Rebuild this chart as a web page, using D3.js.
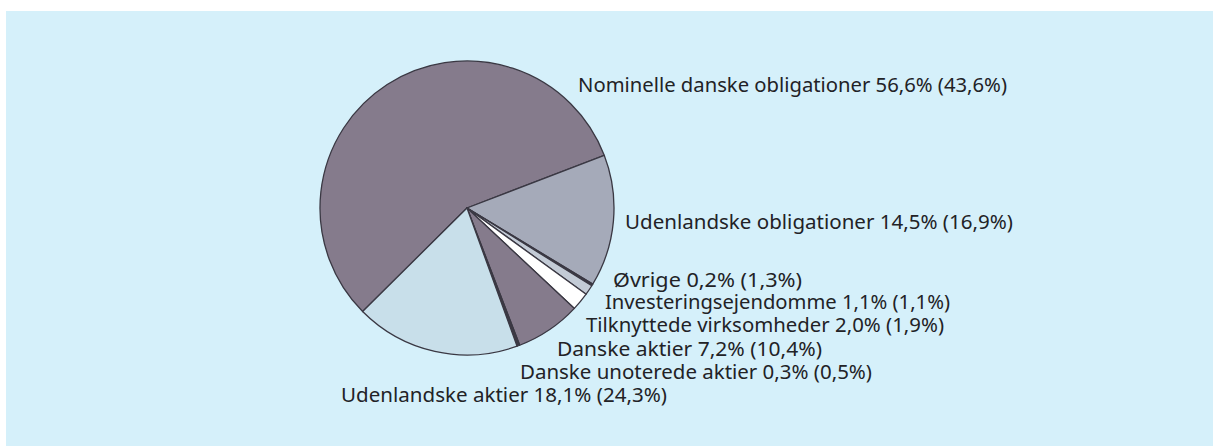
<!DOCTYPE html>
<html>
<script src="https://d3js.org/d3.v7.min.js"></script>

<head>
    <style>
        body {
            margin: 0;
            background-color: #ffffff;
            font-family: "Noto Sans", Arial, sans-serif;
        }

        svg {
            display: block;
        }
    </style>
</head>

<body>
</body>
<script>
    const width = 1213,
        height = 448;

    // asset classes, clockwise starting at the big slice
    const categories = [
        "Nominelle danske obligationer",
        "Udenlandske obligationer",
        "Øvrige",
        "Investeringsejendomme",
        "Tilknyttede virksomheder",
        "Danske aktier",
        "Danske unoterede aktier",
        "Udenlandske aktier"
    ];
    // share this year, %
    const shares = [56.6, 14.5, 0.2, 1.1, 2.0, 7.2, 0.3, 18.1];
    // share previous year, % (in brackets)
    const previous = [43.6, 16.9, 1.3, 1.1, 1.9, 10.4, 0.5, 24.3];

    const colors = [
        "#857b8c", // mauve grey
        "#a5aab9",
        "#3d3a45",
        "#c3cbd6",
        "#ffffff",
        "#857b8c",
        "#3d3a45",
        "#c8dfea"
    ];

    // label anchors: left x, baseline y, target width
    const labelPos = [
        [578, 92, 429],
        [625, 229, 388],
        [613, 287, 189],
        [605, 309, 345],
        [586, 332, 358],
        [557, 356, 265],
        [520, 379, 352],
        [341, 402, 326]
    ];

    const svg = d3.select("body").append("svg").attr("width", width).attr("height", height);

    svg.append("rect")
        .attr("x", 6)
        .attr("y", 11)
        .attr("width", width - 6)
        .attr("height", height - 13)
        .attr("fill", "#d5f0fa");

    const cx = 467,
        cy = 208,
        r = 147;

    const fmt = v => d3.format(".1f")(v).replace(".", ",") + "%";

    const data = categories.map((c, i) => ({
        name: c,
        value: shares[i],
        prev: previous[i],
        color: colors[i]
    }));

    const start = (69 - shares[0] * 3.6) * Math.PI / 180;
    const pie = d3.pie()
        .sort(null)
        .value(d => d.value)
        .startAngle(start)
        .endAngle(start + 2 * Math.PI);

    const arc = d3.arc().innerRadius(0).outerRadius(r);

    svg.append("g")
        .attr("transform", `translate(${cx},${cy})`)
        .selectAll("path")
        .data(pie(data))
        .enter()
        .append("path")
        .attr("d", arc)
        .attr("fill", d => d.data.color)
        .attr("stroke", "#3a3843")
        .attr("stroke-width", 1.3)
        .attr("stroke-linejoin", "round");

    svg.append("g")
        .selectAll("text")
        .data(data)
        .enter()
        .append("text")
        .attr("x", (d, i) => labelPos[i][0])
        .attr("y", (d, i) => labelPos[i][1])
        .attr("textLength", (d, i) => labelPos[i][2])
        .attr("lengthAdjust", "spacingAndGlyphs")
        .attr("font-size", "19px")
        .attr("fill", "#222226")
        .text(d => `${d.name} ${fmt(d.value)} (${fmt(d.prev)})`);
</script>

</html>
